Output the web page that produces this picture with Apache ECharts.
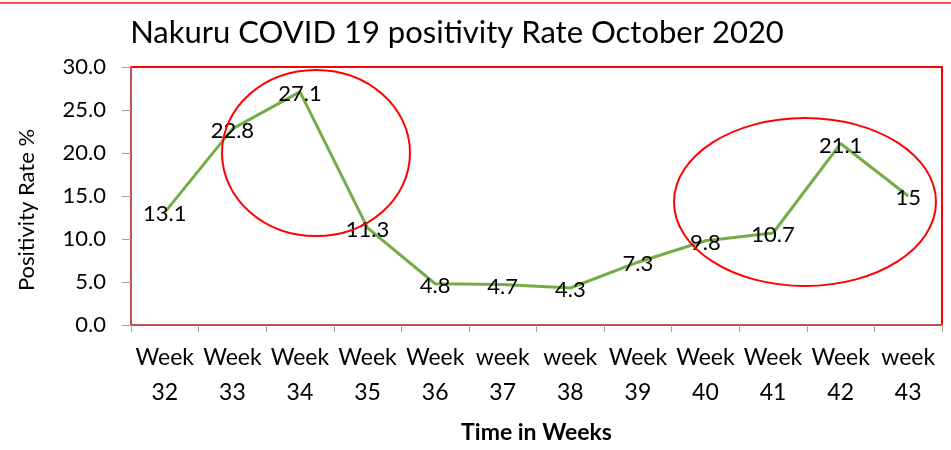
<!DOCTYPE html>
<html>
<head>
<meta charset="utf-8">
<script src="https://cdn.jsdelivr.net/npm/echarts@6/dist/echarts.min.js"></script>
<style>
  html, body { margin: 0; padding: 0; background: #fff; }
  #main { width: 951px; height: 450px; }
</style>
</head>
<body>
<div id="main"></div>
<script>
// data
var weeks = ['Week\n32', 'Week\n33', 'Week\n34', 'Week\n35', 'Week\n36', 'week\n37',
             'week\n38', 'Week\n39', 'Week\n40', 'Week\n41', 'Week\n42', 'week\n43'];
var rates = [13.1, 22.8, 27.1, 11.3, 4.8, 4.7, 4.3, 7.3, 9.8, 10.7, 21.1, 15];

var font = 'Lato';
var myChart = echarts.init(document.getElementById('main'));

var option = {
  animation: false,
  backgroundColor: '#fff',
  textStyle: { fontFamily: font, color: '#000' },
  title: {
    text: 'Nakuru COVID 19 positivity Rate October 2020',
    left: 452, top: 12, textAlign: 'center',
    textStyle: { fontFamily: font, fontSize: 31, fontWeight: 'normal', color: '#000' }
  },
  grid: {
    left: 131, right: 9, top: 67, bottom: 125,
    show: true, borderColor: '#ff0000', borderWidth: 2, backgroundColor: '#fff'
  },
  xAxis: {
    type: 'category',
    data: weeks,
    boundaryGap: true,
    name: 'Time in Weeks',
    nameLocation: 'middle',
    nameGap: 96,
    nameTextStyle: { fontFamily: font, fontSize: 23, fontWeight: 'bold', color: '#000' },
    axisLine: { lineStyle: { color: '#c0504d', width: 2 } },
    axisTick: { show: true, length: 7, lineStyle: { color: '#a0a0a0' } },
    axisLabel: { fontFamily: font, fontSize: 23, color: '#000', margin: 15, lineHeight: 35, interval: 0 },
    splitLine: { show: false }
  },
  yAxis: {
    type: 'value',
    min: 0, max: 30, interval: 5,
    name: 'Positivity Rate %',
    nameLocation: 'middle',
    nameGap: 93,
    nameTextStyle: { fontFamily: font, fontSize: 22, color: '#000', padding: [0, 28, 0, 0] },
    axisLine: { show: true, lineStyle: { color: '#c0504d', width: 2 } },
    axisTick: { show: true, length: 9, lineStyle: { color: '#a0a0a0' } },
    axisLabel: { fontFamily: font, fontSize: 22, color: '#000', margin: 25,
                 formatter: function (v) { return v.toFixed(1); } },
    splitLine: { show: false }
  },
  series: [{
    type: 'line',
    data: rates,
    symbol: 'circle',
    symbolSize: 1,
    itemStyle: { color: '#72ad47' },
    lineStyle: { color: '#72ad47', width: 3 },
    label: {
      show: true, position: 'inside', offset: [0, 2],
      fontFamily: font, fontSize: 22, color: '#000'
    },
    z: 3
  }],
  graphic: [
    { type: 'line', shape: { x1: 0, y1: 3, x2: 951, y2: 3 },
      style: { stroke: '#ff5050', lineWidth: 2 } },
    { type: 'ellipse', shape: { cx: 316, cy: 153, rx: 94, ry: 83 },
      style: { fill: 'none', stroke: '#ff0000', lineWidth: 2 }, z: 10 },
    { type: 'ellipse', shape: { cx: 805, cy: 202, rx: 131, ry: 84 },
      style: { fill: 'none', stroke: '#ff0000', lineWidth: 2 }, z: 10 }
  ]
};
myChart.setOption(option);
</script>
</body>
</html>
